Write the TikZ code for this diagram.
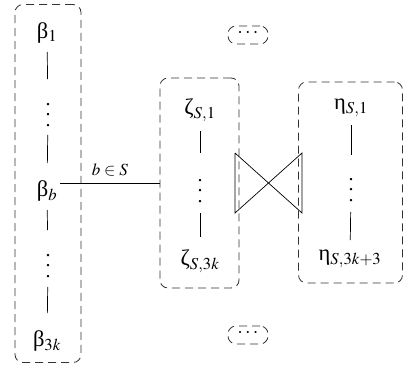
\documentclass[tikz,border=0pt]{standalone}
\usepackage{mathptmx}
\usepackage{fontspec}
\setmainfont{Liberation Serif}
% three spaced dots stacked vertically, sized for the column labels
\newcommand\colvdots{\vbox{\baselineskip10.5pt\lineskiplimit0pt\hbox{.}\hbox{.}\hbox{.}}}
\begin{document}
\begin{tikzpicture}[x=1pt,y=-1pt,
  txt/.style={inner sep=0pt, font=\fontsize{22.5}{27}\selectfont},
  dts/.style={inner sep=0pt, font=\fontsize{20}{24}\selectfont},
  lbl/.style={inner sep=0pt, font=\fontsize{17}{20}\selectfont},
  grp/.style={draw=black!80, line width=0.8pt, dash pattern=on 8pt off 5pt,
              rounded corners=8pt, inner sep=0pt},
  link/.style={draw=black, line width=0.7pt}]
\useasboundingbox (0,0) rectangle (404,369);

% group frames
\node[grp, minimum width=66pt, minimum height=358pt] (bbox) at (48,183.5) {};
\node[grp, minimum width=79pt, minimum height=210pt] (zbox) at (199.5,183) {};
\node[grp, minimum width=104pt, minimum height=201pt] (ebox) at (350.5,182.5) {};
\node[grp, minimum width=40pt, minimum height=18pt] (topbox) at (248,35) {};
\node[dts] (topdots) at (248,33) {$\cdots$};
\node[grp, minimum width=40pt, minimum height=18pt] (botbox) at (248,335) {};
\node[dts] (botdots) at (248,333) {$\cdots$};

% beta column
\node[txt] (b1)  at (47,33)  {β$_1$};
\node[dts] (bd1) at (48,115) {\colvdots};
\node[txt] (bb)  at (47,191) {β$_b$};
\node[dts] (bd2) at (48,266) {\colvdots};
\node[txt] (b3k) at (47,341) {β$_{3k}$};
\draw[link, shorten <=19pt, shorten >=36pt] (b1.center) -- (bd1.center);
\draw[link, shorten <=20pt, shorten >=28pt] (bd1.center) -- (bb.center);
\draw[link, shorten <=19pt, shorten >=36pt] (bb.center) -- (bd2.center);
\draw[link, shorten <=21pt, shorten >=28pt] (bd2.center) -- (b3k.center);

% zeta column
\node[txt] (z1)  at (200,110) {ζ$_{S,1}$};
\node[dts] (zd)  at (200,191) {\colvdots};
\node[txt] (z3k) at (200,261) {ζ$_{S,3k}$};
\draw[link, shorten <=21pt, shorten >=38pt] (z1.center) -- (zd.center);
\draw[link, shorten <=22pt, shorten >=24pt] (zd.center) -- (z3k.center);

% eta column
\node[txt] (e1)  at (351,108) {η$_{S,1}$};
\node[dts] (ed)  at (351,190) {\colvdots};
\node[txt] (e3)  at (350,259) {η$_{S,3k+3}$};
\draw[link, shorten <=17pt, shorten >=35pt] (e1.center) -- (ed.center);
\draw[link, shorten <=22pt, shorten >=19pt] (ed.center) -- (e3.center);

% link from beta_b to the zeta group
\draw[link] (zbox.west) -- ([xshift=3pt]zbox.west -| bb.east)
  node[lbl, midway, above=6pt] (lab) {$b\in S$};

% complete bipartite join between the two groups
\coordinate (lt) at (235,153);
\coordinate (lb) at (235,213);
\coordinate (rt) at (302,153);
\coordinate (rb) at (302,213);
\draw[link] (lt) -- (lb) -- (rt) -- (rb) -- (lt);
\end{tikzpicture}
\end{document}
